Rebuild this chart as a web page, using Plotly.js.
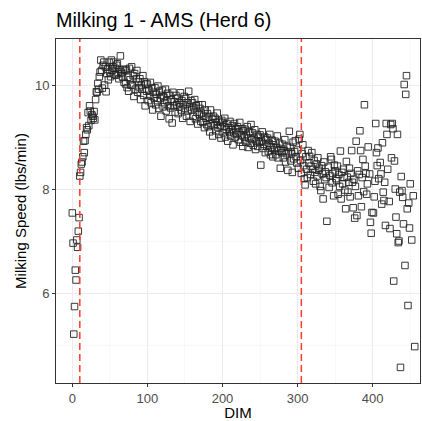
<!DOCTYPE html>
<html><head><meta charset="utf-8">
<script src="https://cdn.plot.ly/plotly-3.0.1.min.js"></script>
<style>html,body{margin:0;padding:0;background:#fff}#chart{width:422px;height:421px}</style>
</head><body><div id="chart"></div>
<script>
const dim = [
0,1,2,3,4,5,6,7,8,9,
10,11,12,13,14,15,16,17,18,19,
20,21,22,23,24,25,26,27,28,29,
30,31,32,33,34,35,36,37,38,39,
40,41,42,43,44,45,46,47,48,49,
50,51,52,53,54,55,56,57,58,59,
60,61,62,63,64,65,66,67,68,69,
70,71,72,73,74,75,76,77,78,79,
80,81,82,83,84,85,86,87,88,89,
90,91,92,93,94,95,96,97,98,99,
100,101,102,103,104,105,106,107,108,109,
110,111,112,113,114,115,116,117,118,119,
120,121,122,123,124,125,126,127,128,129,
130,131,132,133,134,135,136,137,138,139,
140,141,142,143,144,145,146,147,148,149,
150,151,152,153,154,155,156,157,158,159,
160,161,162,163,164,165,166,167,168,169,
170,171,172,173,174,175,176,177,178,179,
180,181,182,183,184,185,186,187,188,189,
190,191,192,193,194,195,196,197,198,199,
200,201,202,203,204,205,206,207,208,209,
210,211,212,213,214,215,216,217,218,219,
220,221,222,223,224,225,226,227,228,229,
230,231,232,233,234,235,236,237,238,239,
240,241,242,243,244,245,246,247,248,249,
250,251,252,253,254,255,256,257,258,259,
260,261,262,263,264,265,266,267,268,269,
270,271,272,273,274,275,276,277,278,279,
280,281,282,283,284,285,286,287,288,289,
290,291,292,293,294,295,296,297,298,299,
300,301,302,303,304,305,306,307,308,309,
310,311,312,313,314,315,316,317,318,319,
320,321,322,323,324,325,326,327,328,329,
330,331,332,333,334,335,336,337,338,339,
341,342,343,344,345,346,347,348,349,350,
351,352,353,354,355,356,357,358,359,360,
361,362,363,364,365,366,367,368,369,370,
371,372,373,374,375,376,377,378,379,380,
381,382,383,384,385,386,387,388,389,390,
391,392,393,394,396,397,398,399,401,402,
403,404,405,406,407,408,410,411,412,413,
414,415,416,417,418,419,420,422,423,424,
425,426,427,428,429,430,431,432,433,434,
435,436,437,438,439,440,441,442,443,444,
445,446,447,448,449,450,452,454,456
];
const speed = [
7.54,6.96,5.21,5.74,6.44,6.25,7.02,6.88,7.19,7.45,
8.25,8.32,8.48,8.52,8.62,8.92,8.70,8.93,9.05,9.18,
9.14,9.47,9.22,9.60,9.50,9.32,9.43,9.40,9.36,9.49,
9.33,9.72,9.87,9.86,10.03,9.92,10.16,10.25,10.48,10.28,
9.94,10.38,10.44,10.00,10.35,9.87,10.22,10.30,10.10,10.44,
10.25,10.16,10.48,10.28,10.35,10.44,10.20,10.32,10.19,10.38,
10.41,10.22,10.12,10.30,10.56,10.25,10.22,10.15,10.30,10.05,
10.28,10.02,10.30,9.95,10.15,9.88,10.32,10.10,10.00,10.35,
10.00,10.18,9.78,10.22,9.92,10.12,10.28,9.86,10.06,9.95,
10.12,9.72,10.00,9.92,10.18,9.80,10.06,9.60,10.02,9.88,
10.02,9.70,9.90,9.80,10.05,9.66,9.94,9.52,9.86,9.76,
9.95,9.62,9.82,9.70,9.98,9.55,9.88,9.74,9.40,9.80,
9.90,9.58,9.76,9.66,9.92,9.50,9.70,9.84,9.60,9.35,
9.80,9.56,9.72,9.27,9.86,9.60,9.68,9.48,9.80,9.62,
9.75,9.45,9.66,9.58,9.85,9.52,9.70,9.36,9.62,9.78,
9.55,9.74,9.40,9.66,9.50,9.88,9.58,9.30,9.70,9.52,
9.66,9.40,9.56,9.72,9.35,9.60,9.48,9.25,9.62,9.44,
9.55,9.30,9.46,9.62,9.28,9.40,9.18,9.52,9.36,9.24,
9.45,9.20,9.38,9.10,9.52,9.26,9.34,9.02,9.40,9.22,
9.36,9.12,9.28,9.46,9.18,9.05,9.30,9.22,8.98,9.32,
9.28,9.08,9.20,9.36,9.00,9.15,9.26,8.92,9.18,9.10,
9.30,9.02,9.14,9.22,8.85,9.08,9.26,9.00,9.16,9.05,
9.20,8.95,9.10,9.28,8.90,9.04,9.16,8.82,9.12,9.00,
9.15,8.90,9.05,9.20,8.80,8.98,9.10,8.88,9.24,8.95,
9.08,8.84,8.98,9.14,8.76,8.92,9.05,8.82,9.00,8.90,
9.04,8.46,8.92,9.10,8.78,8.86,9.00,8.70,8.95,8.82,
8.98,8.72,8.88,9.05,8.66,8.80,8.94,8.62,8.85,8.76,
8.92,8.66,8.80,9.02,8.60,8.74,8.88,8.40,8.78,8.70,
8.86,8.60,8.74,8.95,8.52,8.68,8.82,8.36,8.72,9.11,
8.80,8.54,8.68,8.32,8.90,8.58,8.72,8.93,8.62,8.50,
8.75,8.40,8.96,9.05,8.55,8.30,8.68,8.85,8.45,8.20,
8.08,8.62,8.38,8.22,8.74,8.50,8.63,8.28,8.44,8.70,
8.38,8.15,8.55,8.32,8.10,8.48,8.25,8.60,8.36,8.40,
8.05,7.97,8.45,8.29,7.81,8.52,8.18,8.33,8.22,7.38,
8.42,8.03,8.26,8.62,8.57,8.12,8.30,7.87,8.46,8.35,
8.20,8.16,8.44,7.90,8.28,8.05,8.73,7.81,8.32,8.10,
8.38,8.22,7.98,7.62,8.53,8.23,7.94,8.13,8.40,7.85,
8.30,8.74,8.13,7.64,8.19,7.44,8.05,8.92,7.49,8.35,
7.87,8.28,9.12,8.74,7.66,8.22,8.57,7.95,9.62,8.44,
8.30,7.90,8.10,8.81,8.29,7.36,7.15,7.55,7.54,7.85,
8.15,9.26,8.70,8.45,8.79,8.20,8.51,8.29,7.71,8.89,
7.94,7.78,8.13,7.30,9.26,9.05,8.38,7.76,7.24,9.24,
8.60,9.26,9.16,6.23,8.54,8.00,7.46,7.14,9.05,6.97,
7.00,7.94,4.57,8.24,7.97,7.84,7.33,10.01,6.53,9.82,
10.18,7.62,5.76,7.73,7.25,8.10,7.02,7.87,4.97
];
const cutoffs = [10, 305];
const titleText = 'Milking 1 - AMS (Herd 6)';
const xLabel = 'DIM';
const yLabel = 'Milking Speed (lbs/min)';

const FONT = 'Liberation Sans, Arial, Helvetica, sans-serif';

const trace = {
  x: dim, y: speed, type: 'scatter', mode: 'markers',
  marker: {symbol: 'square-open', size: 6.5, color: '#222222', line: {width: 0.9, color: '#222222'}},
  hoverinfo: 'skip', showlegend: false
};

const axisCommon = {
  showline: true, mirror: true, linecolor: '#333333', linewidth: 1,
  ticks: 'outside', ticklen: 3, tickwidth: 1, tickcolor: '#333333',
  showgrid: true, gridcolor: '#ebebeb', gridwidth: 1, zeroline: false,
  tickfont: {family: FONT, size: 13, color: '#4d4d4d'}
};

const layout = {
  width: 422, height: 421,
  margin: {l: 56, r: 2, t: 39, b: 38},
  paper_bgcolor: '#ffffff', plot_bgcolor: '#ffffff',
  font: {family: FONT, color: '#000'},
  title: {text: titleText, font: {family: FONT, size: 19.8, color: '#000'},
          x: 56/422, xanchor: 'left', xref: 'container', y: 1 - 20/421, yanchor: 'middle', yref: 'container'},
  xaxis: Object.assign({}, axisCommon, {
    range: [-21.7, 463], tick0: 0, dtick: 100,
    minor: {tick0: 0, dtick: 50, showgrid: true, gridcolor: '#f4f4f4', gridwidth: 0.6, ticks: ''},
    title: {text: xLabel, font: {family: FONT, size: 15, color: '#000'}, standoff: 5}
  }),
  yaxis: Object.assign({}, axisCommon, {
    range: [4.27, 10.885], tick0: 0, dtick: 2,
    minor: {tick0: 0, dtick: 1, showgrid: true, gridcolor: '#f4f4f4', gridwidth: 0.6, ticks: ''},
    title: {text: yLabel, font: {family: FONT, size: 15, color: '#000'}, standoff: 4}
  }),
  shapes: cutoffs.map(c => ({
    type: 'line', xref: 'x', yref: 'paper', x0: c, x1: c, y0: 0, y1: 1,
    line: {color: '#ff3b2b', width: 1.5, dash: '7px,4px'}, layer: 'above'
  }))
};

Plotly.newPlot('chart', [trace], layout, {staticPlot: true, displayModeBar: false});
</script>
</body></html>
